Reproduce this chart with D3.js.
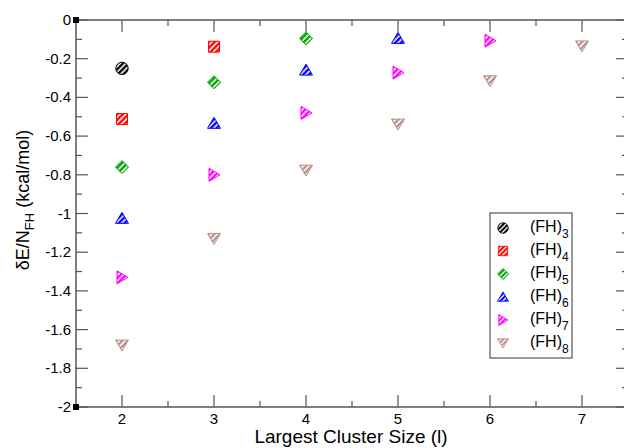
<!DOCTYPE html>
<html>
<head>
<meta charset="utf-8">
<script src="https://cdn.jsdelivr.net/npm/d3@7"></script>
<style>
body { margin: 0; background: #fff; }
text { font-family: "Liberation Sans", Arial, sans-serif; fill: #000; }
</style>
</head>
<body>
<script>
/***** data *****/
var clusterSizes = [2, 3, 4, 5, 6, 7];
var fh3 = [-0.25];
var fh4 = [-0.512, -0.138];
var fh5 = [-0.76, -0.322, -0.095];
var fh6 = [-1.025, -0.534, -0.259, -0.095];
var fh7 = [-1.33, -0.80, -0.48, -0.272, -0.107];
var fh8 = [-1.68, -1.129, -0.776, -0.538, -0.314, -0.134];
var seriesNames = ["3", "4", "5", "6", "7", "8"];
var xTicks = [2, 3, 4, 5, 6, 7];
var yTicks = [0, -0.2, -0.4, -0.6, -0.8, -1, -1.2, -1.4, -1.6, -1.8, -2];

var series = [
  {n: seriesNames[0], v: fh3, color: "#000000", shape: "circle"},
  {n: seriesNames[1], v: fh4, color: "#ff0000", shape: "square"},
  {n: seriesNames[2], v: fh5, color: "#00a000", shape: "diamond"},
  {n: seriesNames[3], v: fh6, color: "#0000ff", shape: "up"},
  {n: seriesNames[4], v: fh7, color: "#ff00ff", shape: "right"},
  {n: seriesNames[5], v: fh8, color: "#bc8f8f", shape: "down"}
];

/***** setup *****/
var width = 624, height = 448;
var pL = 76, pT = 20, pR = 628, pB = 407;

var x = d3.scaleLinear().domain([1.5, 7.5]).range([pL, pR]);
var y = d3.scaleLinear().domain([-2, 0]).range([pB, pT]);

var svg = d3.select("body").append("svg")
    .attr("width", width)
    .attr("height", height);

// hatch patterns
var defs = svg.append("defs");
series.forEach(function(s, i) {
  var p = defs.append("pattern")
      .attr("id", "hatch" + i)
      .attr("patternUnits", "userSpaceOnUse")
      .attr("width", 4).attr("height", 4)
      .attr("patternTransform", "rotate(45)");
  p.append("rect").attr("width", 4).attr("height", 4).attr("fill", "#fff");
  p.append("rect").attr("width", 2.4).attr("height", 4).attr("fill", s.color);
});

var axisColor = "#555";

// frame
svg.append("rect")
    .attr("x", pL).attr("y", pT)
    .attr("width", pR - pL).attr("height", pB - pT)
    .attr("fill", "none").attr("stroke", axisColor).attr("stroke-width", 1.5);

// minor tick values
var xMinor = [2.5, 3.5, 4.5, 5.5, 6.5];
var yMinor = [-0.1, -0.3, -0.5, -0.7, -0.9, -1.1, -1.3, -1.5, -1.7, -1.9];

// ticks on all four sides, drawn inward
function ticks(values, len, orient) {
  values.forEach(function(d) {
    var l;
    if (orient === "bottom") l = [x(d), pB, x(d), pB - len];
    if (orient === "top") l = [x(d), pT, x(d), pT + len];
    if (orient === "left") l = [pL, y(d), pL + len, y(d)];
    if (orient === "right") l = [pR, y(d), pR - len, y(d)];
    svg.append("line")
        .attr("x1", l[0]).attr("y1", l[1]).attr("x2", l[2]).attr("y2", l[3])
        .attr("stroke", axisColor).attr("stroke-width", 1.2);
  });
}
ticks(xTicks, 12, "bottom"); ticks(xMinor, 6, "bottom");
ticks(xTicks, 12, "top"); ticks(xMinor, 6, "top");
ticks(yTicks, 12, "left"); ticks(yMinor, 6, "left");
ticks(yTicks, 12, "right"); ticks(yMinor, 6, "right");

// corner squares
[[pL, pT], [pL, pB]].forEach(function(c) {
  svg.append("rect").attr("x", c[0] - 3).attr("y", c[1] - 3)
      .attr("width", 6).attr("height", 6).attr("fill", "#000");
});

// tick labels
svg.selectAll(".xl").data(xTicks).enter().append("text")
    .attr("x", function(d) { return x(d); })
    .attr("y", pB + 17)
    .attr("text-anchor", "middle")
    .style("font-size", "15px")
    .text(function(d) { return d; });

svg.selectAll(".yl").data(yTicks).enter().append("text")
    .attr("x", pL - 5)
    .attr("y", function(d) { return y(d) + 5; })
    .attr("text-anchor", "end")
    .style("font-size", "15px")
    .text(function(d) { return d; });

// axis titles
svg.append("text")
    .attr("x", 351).attr("y", 443)
    .attr("text-anchor", "middle")
    .style("font-size", "19px")
    .text("Largest Cluster Size (l)");

var yt = svg.append("text")
    .attr("transform", "translate(29,200) rotate(-90)")
    .attr("text-anchor", "middle")
    .style("font-size", "18px");
yt.append("tspan").text("δE/N");
yt.append("tspan").attr("dy", 5).style("font-size", "13px").text("FH");
yt.append("tspan").attr("dy", -5).text(" (kcal/mol)");

// markers
function shapePath(shape) {
  if (shape === "circle") return d3.symbol(d3.symbolCircle, 120)();
  if (shape === "square") return "M-5.5,-5.5H5.5V5.5H-5.5Z";
  if (shape === "diamond") return "M0,-6.5L6.5,0L0,6.5L-6.5,0Z";
  if (shape === "up") return "M0,-6L6.5,5L-6.5,5Z";
  if (shape === "down") return "M0,6L6.5,-5L-6.5,-5Z";
  if (shape === "right") return "M6,0L-5,6.5L-5,-6.5Z";
}

series.forEach(function(s, i) {
  svg.selectAll(".m" + i)
      .data(s.v)
      .enter()
      .append("path")
      .attr("d", shapePath(s.shape))
      .attr("transform", function(d, j) {
        return "translate(" + x(clusterSizes[j]) + "," + y(d) + ")";
      })
      .attr("fill", "url(#hatch" + i + ")")
      .attr("stroke", s.color)
      .attr("stroke-width", 1);
});

// legend
var lg = svg.append("g").attr("transform", "translate(490,213)");
lg.append("rect").attr("width", 82).attr("height", 145)
    .attr("fill", "#fff").attr("stroke", axisColor).attr("stroke-width", 1.2);
series.forEach(function(s, i) {
  var row = lg.append("g").attr("transform", "translate(0," + (15 + i * 23) + ")");
  row.append("path")
      .attr("d", shapePath(s.shape))
      .attr("transform", "translate(13,0) scale(0.85)")
      .attr("fill", "url(#hatch" + i + ")")
      .attr("stroke", s.color);
  var t = row.append("text").attr("x", 40).attr("y", 4).style("font-size", "16px");
  t.append("tspan").text("(FH)");
  t.append("tspan").attr("dy", 6).style("font-size", "12px").text(s.n);
});
</script>
</body>
</html>
